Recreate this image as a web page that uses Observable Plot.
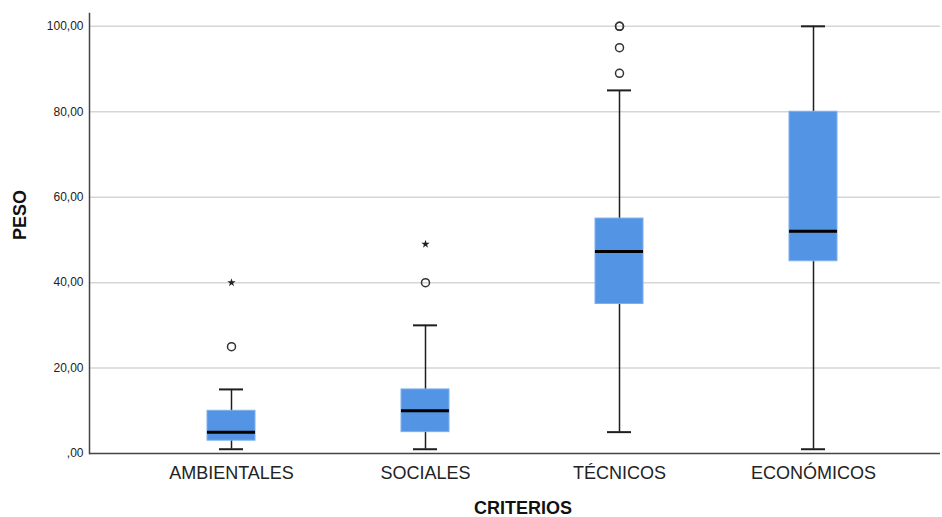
<!DOCTYPE html>
<html>
<head>
<meta charset="utf-8">
<script src="https://cdn.jsdelivr.net/npm/d3@7"></script>
<script src="https://cdn.jsdelivr.net/npm/@observablehq/plot@0.6"></script>
<style>
  html, body { margin: 0; padding: 0; background: #fff; }
  svg { font-family: "Liberation Sans", Arial, sans-serif; }
</style>
</head>
<body>
<div id="chart"></div>
<script>
// Data
const categories = ["AMBIENTALES", "SOCIALES", "TÉCNICOS", "ECONÓMICOS"];
const lowWhisker  = [1, 1, 5, 1];
const q1          = [3, 5, 35, 45];
const median      = [5, 10, 47.3, 52];
const q3          = [10, 15, 55, 80];
const highWhisker = [15, 30, 85, 100];
const outliers    = [[25], [40], [89, 95, 100, 100], []];   // circles
const extremes    = [[40], [49], [], []];                     // stars
const yTicks = [0, 20, 40, 60, 80, 100];

const boxes = categories.map((c, i) => ({
  cat: c, low: lowWhisker[i], q1: q1[i], med: median[i], q3: q3[i], high: highWhisker[i]
}));
const circ = categories.flatMap((c, i) => outliers[i].map(v => ({cat: c, v})));
const stars = categories.flatMap((c, i) => extremes[i].map(v => ({cat: c, v})));

const fmt = v => v.toFixed(2).replace(".", ",").replace(/^0,/, ",");

const step = 194.33, bw = 48;
const pi = 1 - bw / step, po = pi / 2;
const c0 = 230;
const r0 = c0 - step / 2, r1 = r0 + step * 4;

const W = 942, H = 517;
const plot = Plot.plot({
  width: W, height: H,
  marginLeft: 89, marginRight: 2, marginTop: 13, marginBottom: 64,
  style: {fontFamily: '"Liberation Sans", Arial, sans-serif', background: "#fff"},
  x: {type: "band", domain: categories, range: [r0, r1], paddingInner: pi, paddingOuter: po, align: 0.5, label: null},
  y: {domain: [0, 103], label: null},
  marks: [
    Plot.ruleY(yTicks.filter(d => d > 0), {stroke: "#d6d6d6", strokeWidth: 1.5}),
    Plot.axisY({ticks: yTicks, tickFormat: fmt, tickSize: 0, tickPadding: 6, fontSize: 12, color: "#222", label: null}),
    Plot.axisX({tickSize: 0, tickPadding: 13, fontSize: 18, color: "#222", label: null}),
    Plot.ruleX(boxes, {x: "cat", y1: "low", y2: "high", stroke: "#1e1e1e", strokeWidth: 1.5}),
    Plot.tickY(boxes, {x: "cat", y: "low", stroke: "#1e1e1e", strokeWidth: 2, insetLeft: 12, insetRight: 12}),
    Plot.tickY(boxes, {x: "cat", y: "high", stroke: "#1e1e1e", strokeWidth: 2, insetLeft: 12, insetRight: 12}),
    Plot.barY(boxes, {x: "cat", y1: "q1", y2: "q3", fill: "#5394e4", stroke: "#7fb0ec", strokeWidth: 1}),
    Plot.tickY(boxes, {x: "cat", y: "med", stroke: "#000", strokeWidth: 3}),
    Plot.dot(circ, {x: "cat", y: "v", r: 4, stroke: "#333", strokeWidth: 1.5, fill: "none"}),
    Plot.dot(stars, {x: "cat", y: "v", symbol: "star", r: 2.6, fill: "#222", stroke: "none"}),
    Plot.ruleY([0], {stroke: "#444", strokeWidth: 1.5}),
    Plot.frame({anchor: "left", stroke: "#444", strokeWidth: 1.5})
  ]
});

const svg = d3.select(plot);
svg.append("text")
  .attr("transform", "translate(26,215) rotate(-90)")
  .attr("text-anchor", "middle")
  .attr("font-size", 18).attr("font-weight", "bold").attr("fill", "#111")
  .attr("font-family", '"Liberation Sans", Arial, sans-serif')
  .text("PESO");
svg.append("text")
  .attr("x", 523).attr("y", 514)
  .attr("text-anchor", "middle")
  .attr("font-size", 18).attr("font-weight", "bold").attr("fill", "#111")
  .attr("font-family", '"Liberation Sans", Arial, sans-serif')
  .text("CRITERIOS");

document.getElementById("chart").appendChild(plot);
</script>
</body>
</html>
